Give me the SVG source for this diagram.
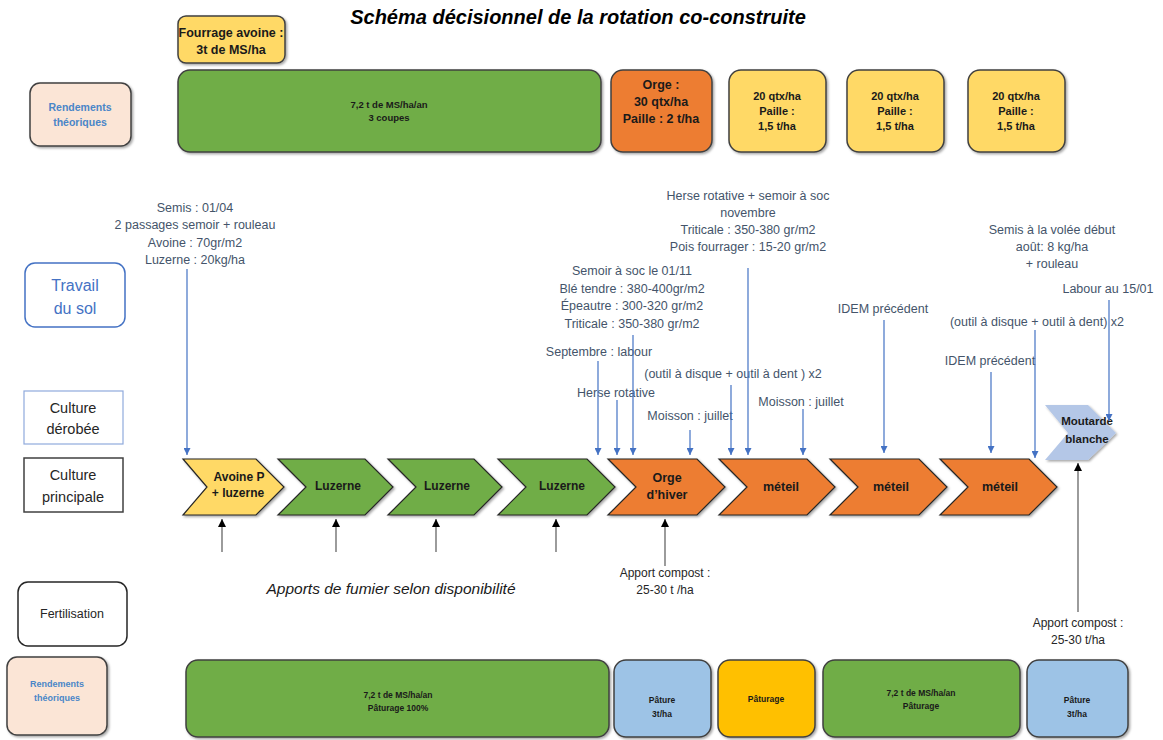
<svg xmlns="http://www.w3.org/2000/svg" width="1163" height="740" viewBox="0 0 1163 740">
<defs>
<filter id="sh" x="-10%" y="-10%" width="130%" height="130%"><feDropShadow dx="1.5" dy="1.5" stdDeviation="1" flood-color="#000" flood-opacity="0.35"/></filter>
<marker id="ab" viewBox="0 0 10 10" refX="10" refY="5" markerWidth="7" markerHeight="7" orient="auto" markerUnits="userSpaceOnUse"><path d="M0,0 L10,5 L0,10 z" fill="#4472C4"/></marker>
<marker id="ak" viewBox="0 0 10 10" refX="10" refY="5" markerWidth="8" markerHeight="8" orient="auto" markerUnits="userSpaceOnUse"><path d="M0,0 L10,5 L0,10 z" fill="#000"/></marker>
<style>
text{font-family:"Liberation Sans",Arial,sans-serif;text-anchor:middle}
.box{stroke:#404040;stroke-width:1.5;filter:url(#sh)}
.chev{stroke:#262626;stroke-width:1.2;filter:url(#sh)}
.b{font-weight:bold;fill:#1a1a1a}
.ann{font-size:12.5px;fill:#44546A}
.rd{font-weight:bold;fill:#4A86C8}
.bl{stroke:#4472C4;stroke-width:1.2;fill:none}
.bk{stroke:#595959;stroke-width:1.2;fill:none}
.lab{fill:#262626}
</style>
</defs>
<rect width="1163" height="740" fill="#fff"/>
<text x="578" y="24" style="font-size:20px;font-weight:bold;font-style:italic" fill="#000">Schéma décisionnel de la rotation co-construite</text>

<!-- top yields -->
<g id="fourrage"><rect class="box" x="178" y="16" width="107" height="47" rx="8" fill="#FFD966"/><text class="b" x="231" y="37" font-size="12.5">Fourrage avoine :</text><text class="b" x="231" y="54" font-size="12.5">3t de MS/ha</text></g>
<g id="rend-top"><rect class="box" x="30" y="83" width="101" height="63" rx="10" fill="#FBE5D6"/><text class="rd" x="80" y="111" font-size="10.5">Rendements</text><text class="rd" x="80" y="126" font-size="10.5">théoriques</text></g>
<g id="top-luzerne"><rect class="box" x="178" y="70" width="423" height="82" rx="12" fill="#70AD47"/><text class="b" x="389" y="108" font-size="9.5">7,2 t de MS/ha/an</text><text class="b" x="389" y="121" font-size="9.5">3 coupes</text></g>
<g id="top-orge"><rect class="box" x="611" y="70" width="101" height="82" rx="12" fill="#ED7D31"/><text class="b" x="661" y="89" font-size="12.5">Orge :</text><text class="b" x="661" y="106" font-size="12.5">30 qtx/ha</text><text class="b" x="661" y="123" font-size="12.5">Paille : 2 t/ha</text></g>
<g id="top-meteil1"><rect class="box" x="729" y="70" width="97" height="82" rx="12" fill="#FFD966"/><text class="b" x="777" y="100" font-size="11">20 qtx/ha</text><text class="b" x="777" y="115" font-size="11">Paille :</text><text class="b" x="777" y="130" font-size="11">1,5 t/ha</text></g>
<g id="top-meteil2"><rect class="box" x="847" y="70" width="97" height="82" rx="12" fill="#FFD966"/><text class="b" x="895" y="100" font-size="11">20 qtx/ha</text><text class="b" x="895" y="115" font-size="11">Paille :</text><text class="b" x="895" y="130" font-size="11">1,5 t/ha</text></g>
<g id="top-meteil3"><rect class="box" x="968" y="70" width="97" height="82" rx="12" fill="#FFD966"/><text class="b" x="1016" y="100" font-size="11">20 qtx/ha</text><text class="b" x="1016" y="115" font-size="11">Paille :</text><text class="b" x="1016" y="130" font-size="11">1,5 t/ha</text></g>

<!-- row labels -->
<g id="travail"><rect x="25" y="263" width="100" height="64" rx="10" fill="#fff" stroke="#4472C4" stroke-width="1.5"/><text x="75" y="291" font-size="16" fill="#4472C4">Travail</text><text x="75" y="314" font-size="16" fill="#4472C4">du sol</text></g>
<g id="derobee"><rect x="24" y="391" width="99" height="53" fill="#fff" stroke="#8FAADC" stroke-width="1.2"/><text x="73" y="413" font-size="14.5" fill="#262626">Culture</text><text x="73" y="434" font-size="14.5" fill="#262626">dérobée</text></g>
<g id="principale"><rect x="24" y="458" width="99" height="54" fill="#fff" stroke="#404040" stroke-width="1.5"/><text x="73" y="480" font-size="14.5" fill="#262626">Culture</text><text x="73" y="502" font-size="14.5" fill="#262626">principale</text></g>
<g id="fertilisation"><rect x="18" y="582" width="109" height="64" rx="10" fill="#fff" stroke="#262626" stroke-width="1.5"/><text x="72" y="618" font-size="12.5" fill="#262626">Fertilisation</text></g>

<!-- chevrons -->
<g id="c-avoine"><polygon class="chev" points="183,459 256,459 284,487 256,515 183,515 207,487" fill="#FFD966"/><text class="b" x="239" y="481" font-size="12">Avoine P</text><text class="b" x="238" y="497" font-size="12">+ luzerne</text></g>
<g id="c-luz1"><polygon class="chev" points="278,459 365,459 393,487 365,515 278,515 306,487" fill="#70AD47"/><text class="b" x="338" y="490" font-size="12">Luzerne</text></g>
<g id="c-luz2"><polygon class="chev" points="388,459 474,459 502,487 474,515 388,515 416,487" fill="#70AD47"/><text class="b" x="447" y="490" font-size="12">Luzerne</text></g>
<g id="c-luz3"><polygon class="chev" points="498,459 587,459 615,487 587,515 498,515 526,487" fill="#70AD47"/><text class="b" x="562" y="490" font-size="12">Luzerne</text></g>
<g id="c-orge"><polygon class="chev" points="608,459 697,459 725,487 697,515 608,515 636,487" fill="#ED7D31"/><text class="b" x="667" y="482" font-size="12.5">Orge</text><text class="b" x="667" y="499" font-size="12.5">d’hiver</text></g>
<g id="c-met1"><polygon class="chev" points="719,459 807,459 835,487 807,515 719,515 747,487" fill="#ED7D31"/><text class="b" x="781" y="491" font-size="12.5">méteil</text></g>
<g id="c-met2"><polygon class="chev" points="830,459 919,459 947,487 919,515 830,515 858,487" fill="#ED7D31"/><text class="b" x="891" y="491" font-size="12.5">méteil</text></g>
<g id="c-met3"><polygon class="chev" points="940,459 1029,459 1057,487 1029,515 940,515 968,487" fill="#ED7D31"/><text class="b" x="1000" y="491" font-size="12.5">méteil</text></g>
<g id="c-moutarde"><polygon points="1045,405 1088,405 1116,433 1088,460 1045,460 1068,433" fill="#B4C7E7" filter="url(#sh)"/><text class="b" x="1087" y="425" font-size="11.5">Moutarde</text><text class="b" x="1087" y="443" font-size="11.5">blanche</text></g>

<!-- bottom yields -->
<g id="rend-bot"><rect class="box" x="7" y="657" width="100" height="78" rx="10" fill="#FBE5D6"/><text class="rd" x="57" y="687" font-size="9">Rendements</text><text class="rd" x="57" y="701" font-size="9">théoriques</text></g>
<g id="bot-luzerne"><rect class="box" x="186" y="660" width="423" height="77" rx="12" fill="#70AD47"/><text class="b" x="398" y="698" font-size="8.5">7,2 t de MS/ha/an</text><text class="b" x="398" y="711" font-size="8.5">Pâturage 100%</text></g>
<g id="bot-pature1"><rect class="box" x="614" y="660" width="97" height="77" rx="12" fill="#9DC3E6"/><text class="b" x="662" y="703" font-size="8.5">Pâture</text><text class="b" x="662" y="717" font-size="8.5">3t/ha</text></g>
<g id="bot-paturage"><rect class="box" x="718" y="660" width="97" height="77" rx="12" fill="#FFC000"/><text class="b" x="766" y="702" font-size="8.5">Pâturage</text></g>
<g id="bot-green2"><rect class="box" x="823" y="660" width="197" height="77" rx="12" fill="#70AD47"/><text class="b" x="921" y="696" font-size="8.5">7,2 t de MS/ha/an</text><text class="b" x="921" y="709" font-size="8.5">Pâturage</text></g>
<g id="bot-pature2"><rect class="box" x="1027" y="660" width="101" height="77" rx="12" fill="#9DC3E6"/><text class="b" x="1077" y="703" font-size="8.5">Pâture</text><text class="b" x="1077" y="717" font-size="8.5">3t/ha</text></g>

<!-- annotations -->
<g id="annotations" class="ann">
<text class="ann" x="195" y="211.5">Semis : 01/04</text>
<text class="ann" x="195" y="228.5">2 passages semoir + rouleau</text>
<text class="ann" x="195" y="246.5">Avoine : 70gr/m2</text>
<text class="ann" x="195" y="263.5">Luzerne : 20kg/ha</text>
<text class="ann" x="748" y="199.5">Herse rotative + semoir à soc</text>
<text class="ann" x="748" y="216.5">novembre</text>
<text class="ann" x="748" y="233.5">Triticale : 350-380 gr/m2</text>
<text class="ann" x="748" y="250.5">Pois fourrager  : 15-20 gr/m2</text>
<text class="ann" x="632" y="274.5">Semoir à soc le 01/11</text>
<text class="ann" x="632" y="292.5">Blé tendre : 380-400gr/m2</text>
<text class="ann" x="632" y="310">Épeautre : 300-320 gr/m2</text>
<text class="ann" x="632" y="327.5">Triticale : 350-380 gr/m2</text>
<text class="ann" x="599" y="355.5">Septembre : labour</text>
<text class="ann" x="733" y="377.5">(outil à disque + outil à dent ) x2</text>
<text class="ann" x="616" y="396.5">Herse rotative</text>
<text class="ann" x="690" y="419.5">Moisson : juillet</text>
<text class="ann" x="801" y="405.5">Moisson : juillet</text>
<text class="ann" x="883" y="312.5">IDEM précédent</text>
<text class="ann" x="1037" y="325.5">(outil à disque + outil à dent) x2</text>
<text class="ann" x="990" y="364.5">IDEM précédent</text>
<text class="ann" x="1108" y="292.5">Labour au 15/01</text>
<text class="ann" x="1052" y="233.5">Semis à la volée début</text>
<text class="ann" x="1052" y="251">août: 8 kg/ha</text>
<text class="ann" x="1052" y="267.5">+ rouleau</text>
<text x="391" y="594" font-size="15.5" font-style="italic" fill="#1a1a1a">Apports de fumier selon disponibilité</text>
<text class="lab" x="665" y="577" font-size="12">Apport compost :</text>
<text class="lab" x="665" y="594" font-size="12">25-30 t /ha</text>
<text class="lab" x="1078" y="627" font-size="12">Apport compost :</text>
<text class="lab" x="1078" y="644" font-size="12">25-30 t/ha</text>
</g>

<!-- connectors -->
<g id="connectors">
<line class="bl" x1="187" y1="269" x2="187" y2="455" marker-end="url(#ab)"/>
<line class="bl" x1="598" y1="361" x2="598" y2="455" marker-end="url(#ab)"/>
<line class="bl" x1="617" y1="400" x2="617" y2="455" marker-end="url(#ab)"/>
<line class="bl" x1="633" y1="335" x2="633" y2="455" marker-end="url(#ab)"/>
<line class="bl" x1="690" y1="430" x2="690" y2="455" marker-end="url(#ab)"/>
<line class="bl" x1="731" y1="385" x2="731" y2="455" marker-end="url(#ab)"/>
<line class="bl" x1="748" y1="268" x2="748" y2="455" marker-end="url(#ab)"/>
<line class="bl" x1="803" y1="409" x2="803" y2="455" marker-end="url(#ab)"/>
<line class="bl" x1="884" y1="320" x2="884" y2="453" marker-end="url(#ab)"/>
<line class="bl" x1="991" y1="372" x2="991" y2="453" marker-end="url(#ab)"/>
<line class="bl" x1="1035" y1="330" x2="1035" y2="458" marker-end="url(#ab)"/>
<line class="bl" x1="1109" y1="300" x2="1109" y2="421" marker-end="url(#ab)"/>
<line class="bk" x1="222" y1="552" x2="222" y2="519" marker-end="url(#ak)"/>
<line class="bk" x1="336" y1="552" x2="336" y2="519" marker-end="url(#ak)"/>
<line class="bk" x1="436" y1="552" x2="436" y2="519" marker-end="url(#ak)"/>
<line class="bk" x1="556" y1="552" x2="556" y2="519" marker-end="url(#ak)"/>
<line class="bk" x1="665" y1="566" x2="665" y2="519" marker-end="url(#ak)"/>
<line class="bk" x1="1078" y1="612" x2="1078" y2="463" marker-end="url(#ak)"/>
</g>
</svg>
